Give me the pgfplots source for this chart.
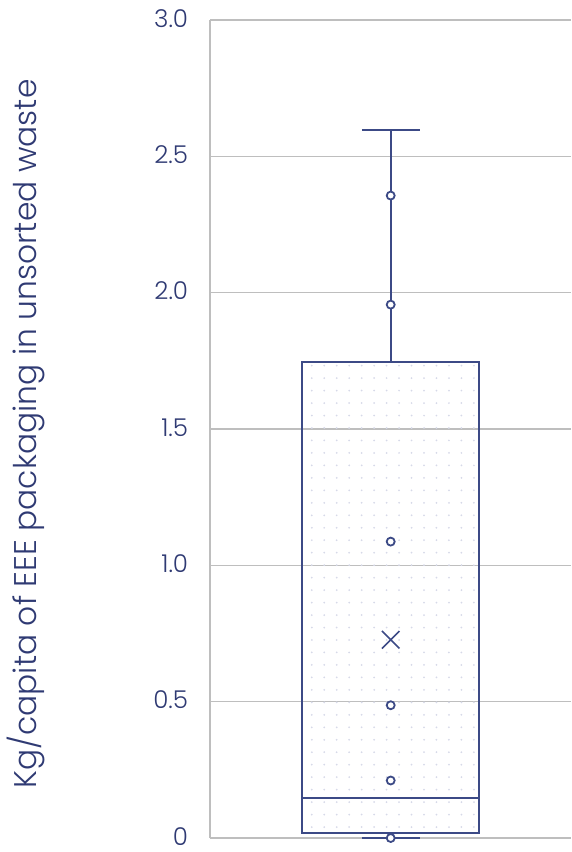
\documentclass[border=0pt]{standalone}
\usepackage{pgfplots}
\pgfplotsset{compat=1.18}
\usepgfplotslibrary{statistics}
\usetikzlibrary{patterns.meta}
\usepackage{fontspec}
\setmainfont{Poppins}[UprightFont=* Light]
\definecolor{navy}{RGB}{47,58,115}
\definecolor{boxline}{RGB}{60,74,134}
\definecolor{gridgray}{RGB}{190,190,190}
\definecolor{dotcol}{RGB}{214,217,232}
\begin{document}
\begin{tikzpicture}
\begin{axis}[
  scale only axis,
  width=181pt, height=410pt,
  xmin=0, xmax=2,
  ymin=0, ymax=3,
  ytick={0,0.5,1,1.5,2,2.5,3},
  yticklabels={0,0.5,1.0,1.5,2.0,2.5,3.0},
  xtick=\empty,
  ymajorgrids,
  grid style={gridgray, line width=0.6pt},
  axis line style={gridgray, line width=0.8pt},
  axis x line=none,
  axis y line*=left,
  y axis line style={-},
  major tick length=0pt,
  yticklabel style={font=\fontsize{12.3}{15}\selectfont, text=navy, inner ysep=1.2pt, xshift=-7.5pt, yshift=0.8pt},
  ylabel={Kg/capita of EEE packaging in unsorted waste},
  every axis y label/.style={at={(axis description cs:-0.511,0.494)}, rotate=90, anchor=center, font=\fontsize{15.7}{19}\selectfont, text=navy},
  clip=false,
  boxplot/draw direction=y,
]
\addplot[draw=boxline, line width=1pt, pattern={Dots[distance=6.25pt, radius=0.5pt]}, pattern color=dotcol,
  boxplot prepared={lower whisker=0, lower quartile=0.018, median=0.147, upper quartile=1.745, upper whisker=2.596, draw position=1, box extend=0.98, whisker extend=0.32}] coordinates {};
\addplot[only marks, mark=*, mark size=2pt, mark options={draw=boxline, fill=white, line width=0.9pt}] coordinates {
(1,0) (1,0.211) (1,0.487) (1,1.087) (1,1.956) (1,2.356)};
\addplot[only marks, mark=x, mark size=6.2pt, mark options={draw=boxline, line width=0.8pt}] coordinates {(1,0.727)};
\end{axis}
\path ([yshift=10pt]current axis.north);
\path ([yshift=-7pt]current axis.south);
\end{tikzpicture}
\end{document}
